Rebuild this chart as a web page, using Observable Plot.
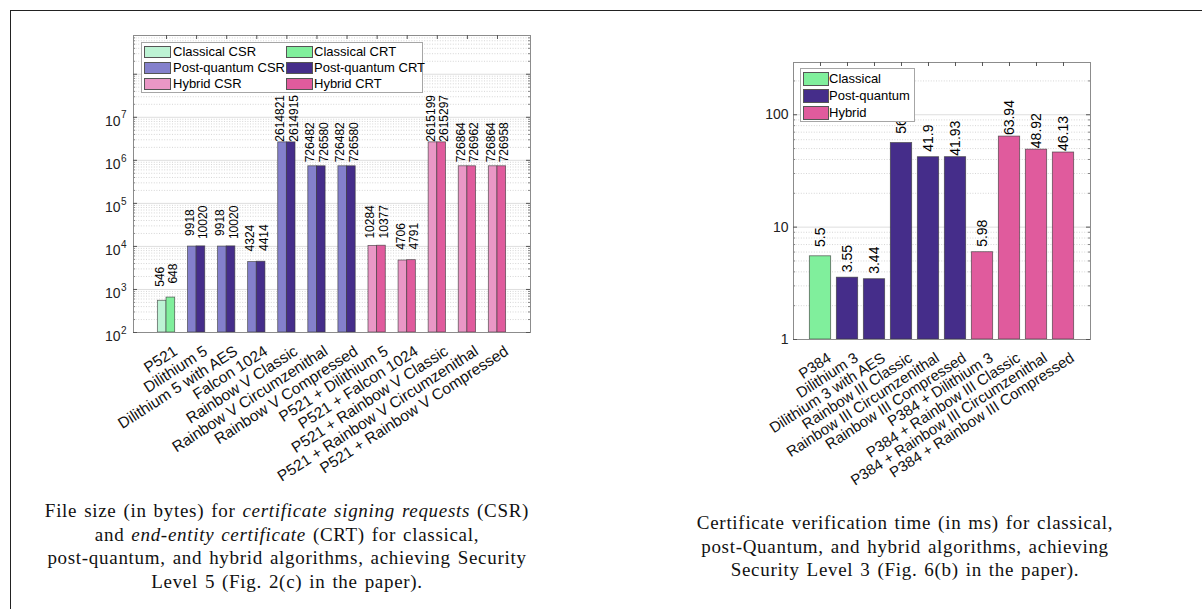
<!DOCTYPE html>
<html><head><meta charset="utf-8">
<script src="https://cdn.jsdelivr.net/npm/d3@7"></script>
<script src="https://cdn.jsdelivr.net/npm/@observablehq/plot@0.6"></script>
<style>
body{margin:0;background:#fff;}
#page{position:relative;width:1202px;height:609px;overflow:hidden;background:#fff;font-family:"Liberation Sans",Arial,sans-serif;}
.frame-top{position:absolute;left:10px;top:10px;width:1192px;height:0;border-top:1.5px solid #222;}
.frame-left{position:absolute;left:10px;top:10px;width:0;height:599px;border-left:1.5px solid #222;}
.chart{position:absolute;}
.chart svg{overflow:visible;}
.legend{position:absolute;background:#fff;border:1px solid #a6a6a6;font-size:13px;color:#000;box-sizing:border-box;}
.legend .sw{position:absolute;box-sizing:border-box;border:1px solid #555;}
.legend .lb{position:absolute;white-space:nowrap;line-height:16px;}
.caption{position:absolute;font-family:"Liberation Serif",serif;font-size:19px;letter-spacing:0.7px;word-spacing:1.5px;line-height:23.5px;text-align:center;color:#111;white-space:nowrap;}
</style></head>
<body>
<div id="page">
  <div class="frame-top"></div>
  <div class="frame-left"></div>
  <div id="left" class="chart" style="left:30px;top:20px;"></div>
  <div id="right" class="chart" style="left:690px;top:20px;"></div>
  <div id="legendL" class="legend" style="left:141px;top:42px;width:282px;height:51px;"></div>
  <div id="legendR" class="legend" style="left:800px;top:68px;width:115px;height:54px;"></div>
  <div class="caption" style="left:37px;top:499px;width:500px;">File size (in bytes) for <i>certificate signing requests</i> (CSR)<br>and <i>end-entity certificate</i> (CRT) for classical,<br>post-quantum, and hybrid algorithms, achieving Security<br>Level 5 (Fig. 2(c) in the paper).</div>
  <div class="caption" style="left:655px;top:511px;width:500px;">Certificate verification time (in ms) for classical,<br>post-Quantum, and hybrid algorithms, achieving<br>Security Level 3 (Fig. 6(b) in the paper).</div>
</div>
<script>
// ---------- Data: file sizes (bytes), Security Level 5 ----------
const sizeCategories = ["P521","Dilithium 5","Dilithium 5 with AES","Falcon 1024","Rainbow V Classic","Rainbow V Circumzenithal","Rainbow V Compressed","P521 + Dilithium 5","P521 + Falcon 1024","P521 + Rainbow V Classic","P521 + Rainbow V Circumzenithal","P521 + Rainbow V Compressed"];
const sizeGroups = ["Classical","Post-quantum","Post-quantum","Post-quantum","Post-quantum","Post-quantum","Post-quantum","Hybrid","Hybrid","Hybrid","Hybrid","Hybrid"];
const csrBytes = [546,9918,9918,4324,2614821,726482,726482,10284,4706,2615199,726864,726864];
const crtBytes = [648,10020,10020,4414,2614915,726580,726580,10377,4791,2615297,726962,726958];
const sizeTickExponents = [2,3,4,5,6,7];
const sizeGridExponents = [2,3,4,5,6,7,8];

// ---------- Data: verification time (ms), Security Level 3 ----------
const timeCategories = ["P384","Dilithium 3","Dilithium 3 with AES","Rainbow III Classic","Rainbow III Circumzenithal","Rainbow III Compressed","P384 + Dilithium 3","P384 + Rainbow III Classic","P384 + Rainbow III Circumzenithal","P384 + Rainbow III Compressed"];
const timeGroups = ["Classical","Post-quantum","Post-quantum","Post-quantum","Post-quantum","Post-quantum","Hybrid","Hybrid","Hybrid","Hybrid"];
const timeMs = [5.5,3.55,3.44,56,41.9,41.93,5.98,63.94,48.92,46.13];
const timeLabels = ["5.5","3.55","3.44","56.","41.9","41.93","5.98","63.94","48.92","46.13"];
const timeTicks = [1,10,100];

// ---------- Colours ----------
const csrColor = {"Classical":"#bdf3d4","Post-quantum":"#8480cc","Hybrid":"#ea97c6"};
const crtColor = {"Classical":"#80ef9c","Post-quantum":"#452d8a","Hybrid":"#e05b9d"};
const timeColor = {"Classical":"#80ef9c","Post-quantum":"#452d8a","Hybrid":"#e05b9d"};

const FONT = "Liberation Sans, Arial, sans-serif";
const majorGridColor = "#dedede", minorGridColor = "#cccccc", axisColor = "#8c8c8c";

function minorValues(exps, max) {
  const out = [];
  for (const e of exps) for (let k = 2; k <= 9; k++) { const v = k * 10 ** e; if (v < max) out.push(v); }
  return out;
}

// ---------- Left chart ----------
{
  const W = 530, H = 470, mL = 103, mR = 30, mT = 15, mB = 158;
  const pIn = 0.425, pOut = 0.81, n = sizeCategories.length;
  const step = (W - mL - mR) / (n - pIn + 2 * pOut), bw = step * (1 - pIn);
  const fw = W - mL - mR, fh = H - mT - mB;
  const yMin = 100, yMax = 10 ** 8.9;
  const rows = sizeCategories.map((c, i) => ({category: c, group: sizeGroups[i], csr: csrBytes[i], crt: crtBytes[i]}));
  const majors = sizeGridExponents.map(e => 10 ** e);
  const minors = minorValues(sizeGridExponents, yMax);
  const chart = Plot.plot({
    width: W, height: H, marginLeft: mL, marginRight: mR, marginTop: mT, marginBottom: mB,
    style: {fontFamily: FONT, background: "transparent", color: "#222"},
    x: {type: "band", domain: sizeCategories, paddingInner: pIn, paddingOuter: pOut, round: false, axis: null},
    y: {type: "log", domain: [yMin, yMax], axis: null},
    color: {type: "identity"},
    marks: [
      Plot.ruleY(minors, {stroke: minorGridColor, strokeDasharray: "1,1.6", strokeWidth: 0.8}),
      Plot.ruleY(majors, {stroke: majorGridColor, strokeWidth: 1}),
      Plot.barY(rows, {x: "category", y1: yMin, y2: "csr", fill: d => csrColor[d.group], insetRight: bw / 2, stroke: "#3a3a3a", strokeOpacity: 0.75, strokeWidth: 0.8}),
      Plot.barY(rows, {x: "category", y1: yMin, y2: "crt", fill: d => crtColor[d.group], insetLeft: bw / 2, stroke: "#3a3a3a", strokeOpacity: 0.75, strokeWidth: 0.8}),
      Plot.text(rows, {x: "category", y: "csr", text: d => String(d.csr), rotate: -90, dx: -6.5, dy: -24, fontSize: 12, textAnchor: "middle", fill: "#000"}),
      Plot.text(rows, {x: "category", y: "crt", text: d => String(d.crt), rotate: -90, dx: 7, dy: -24, fontSize: 12, textAnchor: "middle", fill: "#000"}),
      Plot.frame({stroke: axisColor, strokeWidth: 1}),
      Plot.tickX(sizeCategories, {x: d => d, stroke: "#555", insetBottom: fh - 4}),
      Plot.tickY(majors, {y: d => d, stroke: "#555", insetRight: fw - 4}),
      Plot.tickY(majors, {y: d => d, stroke: "#555", insetLeft: fw - 4}),
      Plot.tickY(minors, {y: d => d, stroke: "#888", insetRight: fw - 2}),
      Plot.tickY(minors, {y: d => d, stroke: "#888", insetLeft: fw - 2}),
      Plot.text(sizeTickExponents, {y: e => 10 ** e, text: () => "10", frameAnchor: "left", textAnchor: "end", dx: -13, dy: 4, fontSize: 14, fill: "#222"}),
      Plot.text(sizeTickExponents, {y: e => 10 ** e, text: e => String(e), frameAnchor: "left", textAnchor: "start", dx: -12.5, dy: -2, fontSize: 10, fill: "#222"}),
      Plot.text(sizeCategories, {x: d => d, text: d => d, frameAnchor: "bottom", rotate: -33, textAnchor: "end", lineAnchor: "top", dx: 6, dy: 12, fontSize: 15.5, fill: "#111"})
    ]
  });
  document.getElementById("left").appendChild(chart);
}

// ---------- Right chart ----------
{
  const W = 510, H = 470, mL = 103, mR = 110, mT = 42, mB = 151;
  const pIn = 0.21, pOut = 0.605;
  const fw = W - mL - mR, fh = H - mT - mB;
  const yMin = 1, yMax = 10 ** 2.465;
  const rows = timeCategories.map((c, i) => ({category: c, group: timeGroups[i], ms: timeMs[i], label: timeLabels[i]}));
  const majors = timeTicks;
  const minors = minorValues([0,1,2], yMax);
  const chart = Plot.plot({
    width: W, height: H, marginLeft: mL, marginRight: mR, marginTop: mT, marginBottom: mB,
    style: {fontFamily: FONT, background: "transparent", color: "#222"},
    x: {type: "band", domain: timeCategories, paddingInner: pIn, paddingOuter: pOut, round: false, axis: null},
    y: {type: "log", domain: [yMin, yMax], axis: null},
    color: {type: "identity"},
    marks: [
      Plot.ruleY(minors, {stroke: minorGridColor, strokeDasharray: "1,1.6", strokeWidth: 0.8}),
      Plot.ruleY(majors, {stroke: majorGridColor, strokeWidth: 1}),
      Plot.barY(rows, {x: "category", y1: yMin, y2: "ms", fill: d => timeColor[d.group], stroke: "#3a3a3a", strokeOpacity: 0.75, strokeWidth: 0.8}),
      Plot.text(rows, {x: "category", y: "ms", text: "label", rotate: -90, dy: -19, fontSize: 14, textAnchor: "middle", fill: "#000"}),
      Plot.frame({stroke: axisColor, strokeWidth: 1}),
      Plot.tickX(timeCategories, {x: d => d, stroke: "#555", insetBottom: fh - 4}),
      Plot.tickY(majors, {y: d => d, stroke: "#555", insetRight: fw - 4}),
      Plot.tickY(majors, {y: d => d, stroke: "#555", insetLeft: fw - 4}),
      Plot.tickY(minors, {y: d => d, stroke: "#888", insetRight: fw - 2}),
      Plot.tickY(minors, {y: d => d, stroke: "#888", insetLeft: fw - 2}),
      Plot.text(timeTicks, {y: d => d, text: d => String(d), frameAnchor: "left", textAnchor: "end", dx: -5, fontSize: 14, fill: "#222"}),
      Plot.text(timeCategories, {x: d => d, text: d => d, frameAnchor: "bottom", rotate: -33, textAnchor: "end", lineAnchor: "top", dx: 6, dy: 12, fontSize: 15, fill: "#111"})
    ]
  });
  document.getElementById("right").appendChild(chart);
}

// ---------- Legends ----------
function buildLegend(id, items) {
  const el = document.getElementById(id);
  for (const it of items) {
    const sw = document.createElement("div");
    sw.className = "sw";
    Object.assign(sw.style, {left: it.sx + "px", top: it.sy + "px", width: it.sw + "px", height: it.sh + "px", background: it.color});
    el.appendChild(sw);
    const lb = document.createElement("div");
    lb.className = "lb";
    Object.assign(lb.style, {left: it.tx + "px", top: it.ty + "px"});
    lb.textContent = it.label;
    el.appendChild(lb);
  }
}
const legendLeftLabels = [["Classical CSR","Classical CRT"],["Post-quantum CSR","Post-quantum CRT"],["Hybrid CSR","Hybrid CRT"]];
const legendLeftGroups = ["Classical","Post-quantum","Hybrid"];
const leftItems = [];
legendLeftGroups.forEach((g, r) => {
  const cy = 9 + r * 16;
  leftItems.push({label: legendLeftLabels[r][0], color: csrColor[g], sx: 2, sy: cy - 6, sw: 27, sh: 12, tx: 31, ty: cy - 8});
  leftItems.push({label: legendLeftLabels[r][1], color: crtColor[g], sx: 144, sy: cy - 6, sw: 27, sh: 12, tx: 172, ty: cy - 8});
});
buildLegend("legendL", leftItems);
const legendRightLabels = ["Classical","Post-quantum","Hybrid"];
buildLegend("legendR", legendRightLabels.map((g, r) => {
  const cy = 9.5 + r * 17;
  return {label: g, color: timeColor[g], sx: 2, sy: cy - 7, sw: 26, sh: 14, tx: 28, ty: cy - 8};
}));
</script>
</body></html>
